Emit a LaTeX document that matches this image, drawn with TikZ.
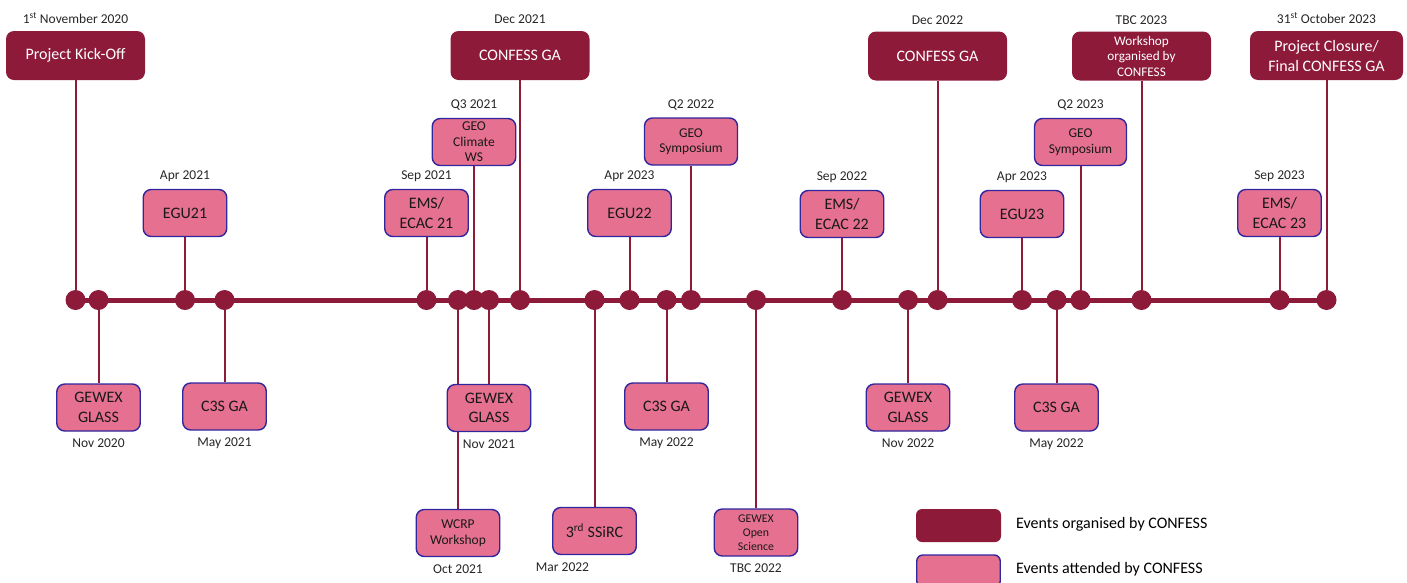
\documentclass[tikz,border=0pt]{standalone}
\usepackage{fontspec}
\setmainfont{Carlito}
\usetikzlibrary{backgrounds}
\definecolor{confdark}{RGB}{142,26,58}
\definecolor{confpink}{RGB}{229,112,143}
\definecolor{attedge}{RGB}{48,38,158}
\begin{document}
\begin{tikzpicture}
[   x=1pt,y=-1pt,
    org/.style={fill=confdark,text=white,rounded corners=8pt,minimum width=139pt,minimum height=49pt,inner sep=1pt,align=center,font=\fontsize{16}{20}\selectfont},
    att/.style={draw=attedge,line width=1.4pt,fill=confpink,text=black!90,rounded corners=8pt,minimum width=83.5pt,minimum height=47pt,inner sep=1pt,align=center,font=\fontsize{16}{19.4}\selectfont},
    small/.style={font=\fontsize{13.5}{15.5}\selectfont},
    dot/.style={circle,fill=confdark,minimum size=20pt,inner sep=0pt},
    link/.style={draw=confdark,line width=2pt},
    tline/.style={draw=confdark,line width=5pt},
    every label/.append style={font=\fontsize{13.5}{16}\selectfont,text=black!85,inner sep=2pt,label distance=5pt},
]
    \useasboundingbox (0,0) rectangle (1407,582);
    \coordinate (t-0) at (75.5,300);
    \coordinate (t-1) at (1326.5,300);
    % organised by CONFESS
    \node[org,label=90:1\textsuperscript{st} November 2020] (ko) at (75.5,55.5) {Project Kick-Off};
    \node[org,label=90:Dec 2021] (ga21) at (520,55.5) {CONFESS GA};
    \node[org,label=90:Dec 2022] (ga22) at (937.5,56) {CONFESS GA};
    \node[org,font=\fontsize{13.2}{15.5}\selectfont,label={[font=\fontsize{13.5}{16}\selectfont]90:TBC 2023}] (wsorg) at (1141.5,56) {Workshop\\organised by\\CONFESS};
    \node[org,minimum width=153pt,label=90:31\textsuperscript{st} October 2023] (close) at (1326.5,55.5) {Project Closure/\\Final CONFESS GA};
    % attended, above the line
    \node[att,small,label=90:Q3 2021] (geows) at (474,142) {GEO\\Climate\\WS};
    \node[att,small,minimum width=93pt,label=90:Q2 2022] (geos22) at (691,141.5) {GEO\\Symposium};
    \node[att,small,minimum width=92pt,label=90:Q2 2023] (geos23) at (1080.5,142) {GEO\\Symposium};
    \node[att,label=90:Apr 2021] (egu21) at (185,213) {EGU21};
    \node[att,label=90:Sep 2021] (ems21) at (426.5,213) {EMS/\\ECAC 21};
    \node[att,label=90:Apr 2023] (egu22) at (629.5,213) {EGU22};
    \node[att,label=90:Sep 2022] (ems22) at (842,214) {EMS/\\ECAC 22};
    \node[att,label=90:Apr 2023] (egu23) at (1022,214) {EGU23};
    \node[att,label=90:Sep 2023] (ems23) at (1279.5,213) {EMS/\\ECAC 23};
    % attended, below the line
    \node[att,label=270:Nov 2020] (glass20) at (98.5,407.5) {GEWEX\\GLASS};
    \node[att,label=270:May 2021] (c3s21) at (224.5,406.5) {C3S GA};
    \node[att,label=270:Nov 2021] (glass21) at (489,408) {GEWEX\\GLASS};
    \node[att,label=270:May 2022] (c3s22) at (666.5,406.5) {C3S GA};
    \node[att,label=270:Nov 2022] (glass22) at (908,407.5) {GEWEX\\GLASS};
    \node[att,label=270:May 2022] (c3s23) at (1056.5,407.5) {C3S GA};
    \node[att,small,label=270:Oct 2021] (wcrp) at (458,533) {WCRP\\Workshop};
    \node[att,label={[xshift=-32pt]270:Mar 2022}] (ssirc) at (594.5,531) {3\textsuperscript{rd} SSiRC};
    \node[att,font=\fontsize{11.8}{13.8}\selectfont,label={[font=\fontsize{13.5}{16}\selectfont]270:TBC 2022}] (gewexos) at (756,532.5) {GEWEX\\Open\\Science};
    % legend
    \node[org,minimum width=85pt,minimum height=33pt,rounded corners=6pt] (key-org) at (958.5,525.5) {};
    \node[att,minimum width=83.5pt,minimum height=32pt,rounded corners=6pt] (key-att) at (958.5,571) {};
    \node[anchor=west,inner sep=0pt,font=\fontsize{16}{19}\selectfont] (key-org-txt) at (1016,524) {Events organised by CONFESS};
    \node[anchor=west,inner sep=0pt,font=\fontsize{16}{19}\selectfont] (key-att-txt) at (1016,569) {Events attended by CONFESS};
    % timeline, dots and links
    \begin{scope}[on background layer]
        \draw[tline] (t-0) -- (t-1);
        \foreach \b in {ko,glass20,egu21,c3s21,ems21,wcrp,geows,glass21,ga21,ssirc,egu22,c3s22,geos22,gewexos,ems22,glass22,ga22,egu23,c3s23,geos23,wsorg,ems23,close}
        {   \node[dot] (d-\b) at (\b |- t-0) {};
            \draw[link] (\b) -- (d-\b);
        }
    \end{scope}
\end{tikzpicture}
\end{document}
